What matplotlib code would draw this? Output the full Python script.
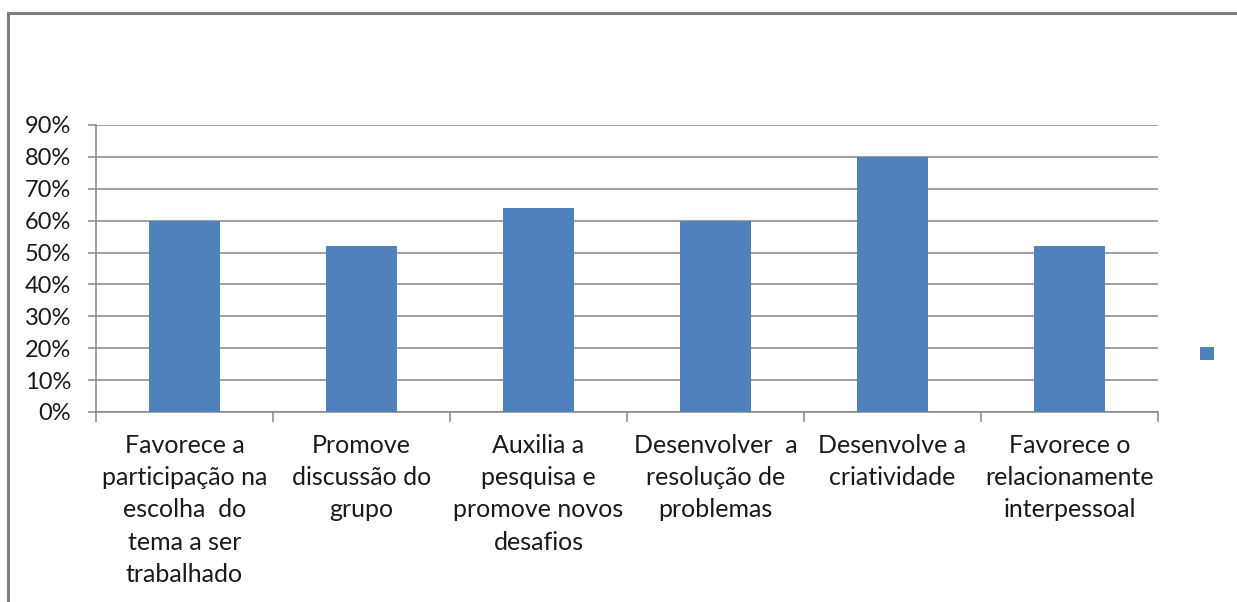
import matplotlib
matplotlib.use("Agg")
import matplotlib.pyplot as plt
from matplotlib.patches import Rectangle
from matplotlib.ticker import FuncFormatter, MultipleLocator

categories = [
    "Favorece a\nparticipação na\nescolha  do\ntema a ser\ntrabalhado",
    "Promove\ndiscussão do\ngrupo",
    "Auxilia a\npesquisa e\npromove novos\ndesafios",
    "Desenvolver  a\nresolução de\nproblemas",
    "Desenvolve a\ncriatividade",
    "Favorece o\nrelacionamente\ninterpessoal",
]
values = [0.60, 0.52, 0.64, 0.60, 0.80, 0.52]

BAR_COLOR = "#4F81BD"
GRID_COLOR = "#868686"
TEXT_COLOR = "#1a1a1a"

plt.rcParams["font.family"] = ["Lato", "DejaVu Sans"]

W, H = 1237, 602
fig = plt.figure(figsize=(W / 100, H / 100), dpi=100)
fig.patch.set_facecolor("white")

# chart frame (extends past the right and bottom edges)
fig.patches.append(Rectangle((8 / W, -0.2), 1.2, 1 - 13 / H + 0.2,
                             transform=fig.transFigure, fill=False,
                             edgecolor="#7f7f7f", linewidth=2.2, zorder=0))

left, right = 96 / W, 1158 / W
bottom, top = (H - 412) / H, (H - 125) / H
ax = fig.add_axes([left, bottom, right - left, top - bottom])

x = range(len(categories))
ax.bar(x, values, width=0.4, color=BAR_COLOR, zorder=3)

ax.set_xlim(-0.5, len(categories) - 0.5)
ax.set_ylim(0, 0.9)
ax.yaxis.set_major_locator(MultipleLocator(0.1))
ax.yaxis.set_major_formatter(FuncFormatter(lambda v, p: f"{round(v * 100)}%"))
ax.grid(axis="y", color=GRID_COLOR, linewidth=1.1, zorder=0)

for s in ["top", "right"]:
    ax.spines[s].set_visible(False)
ax.spines["left"].set_color(GRID_COLOR)
ax.spines["bottom"].set_color(GRID_COLOR)
ax.spines["left"].set_linewidth(1.1)
ax.spines["bottom"].set_linewidth(1.1)

ax.tick_params(axis="y", length=6, width=1.1, color=GRID_COLOR,
               labelsize=17, labelcolor=TEXT_COLOR, pad=12)

# category boundary ticks on the x axis
ax.set_xticks([i - 0.5 for i in range(len(categories) + 1)])
ax.set_xticklabels([])
ax.tick_params(axis="x", length=7, width=1.1, color=GRID_COLOR)

for i, label in enumerate(categories):
    ax.annotate(label, xy=(i, 0), xycoords=("data", "axes fraction"),
                xytext=(0, -16), textcoords="offset points",
                ha="center", va="top", fontsize=18, color=TEXT_COLOR,
                linespacing=1.48, annotation_clip=False)

# legend key with no label
fig.patches.append(Rectangle((1200 / W, (H - 360) / H), 14 / W, 13 / H,
                             transform=fig.transFigure, facecolor=BAR_COLOR,
                             edgecolor="none"))

fig.savefig("out.png", dpi=100, facecolor="white")
